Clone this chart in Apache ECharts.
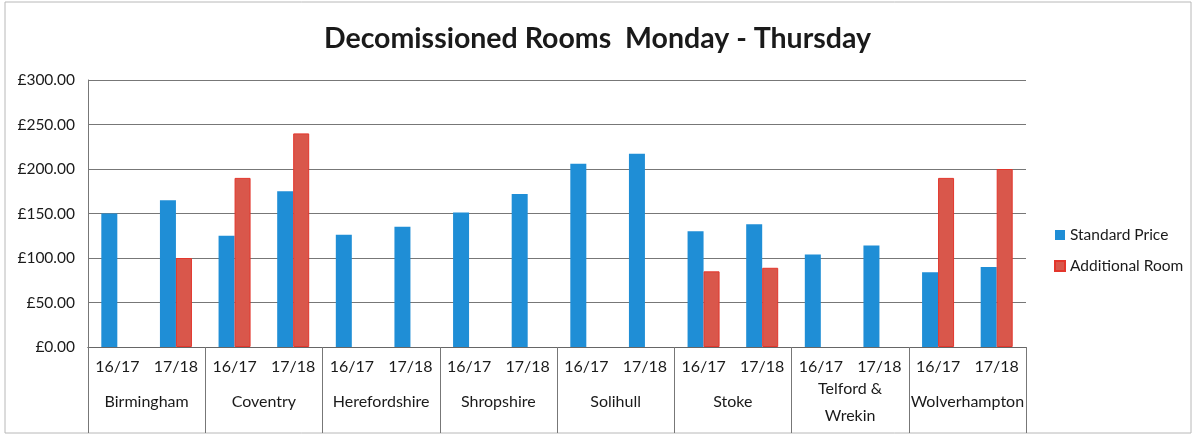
<!DOCTYPE html>
<html>
<head>
<meta charset="utf-8">
<script src="https://cdn.jsdelivr.net/npm/echarts@6/dist/echarts.min.js"></script>
<style>
  html, body { margin: 0; padding: 0; background: #fff; }
  #chart { width: 1195px; height: 437px; }
</style>
</head>
<body>
<div id="chart"></div>
<script>
var regions   = ['Birmingham', 'Coventry', 'Herefordshire', 'Shropshire', 'Solihull', 'Stoke', 'Telford &\nWrekin', 'Wolverhampton']
var years     = ['16/17', '17/18']
var standard  = [150, 165, 125, 175, 126, 135, 151, 172, 206, 217, 130, 138, 104, 114, 84, 90]
var additional = [null, 100, 190, 240, null, null, null, null, null, null, 85, 89, null, null, 190, 200]

// one category per region/year pair
var yearCats = []
regions.forEach(function() { years.forEach(function(y) { yearCats.push(y) }) })

var FONT = 'Lato, "Open Sans", sans-serif'
var chart = echarts.init(document.getElementById('chart'), null, { renderer: 'canvas' })

chart.setOption({
  backgroundColor: '#fff',
  animation: false,
  title: {
    text: 'Decomissioned Rooms  Monday - Thursday',
    left: 'center',
    top: 19,
    textStyle: { fontFamily: FONT, fontSize: 28.5, fontWeight: 'bold', color: '#1a1a1a' }
  },
  legend: {
    orient: 'vertical',
    left: 1049,
    top: 222,
    itemWidth: 10,
    itemHeight: 10,
    itemGap: 15,
    icon: 'rect',
    textStyle: { fontFamily: FONT, fontSize: 15.5, color: '#1a1a1a' },
    data: ['Standard Price', 'Additional Room']
  },
  grid: { left: 88, right: 169, top: 80, bottom: 90 },
  xAxis: [{
    type: 'category',
    data: yearCats,
    position: 'bottom',
    axisLine: { lineStyle: { color: '#666' } },
    axisTick: { show: false },
    axisLabel: { fontFamily: FONT, fontSize: 16, color: '#1a1a1a', margin: 20, verticalAlign: 'middle', interval: 0 }
  }, {
    type: 'category',
    data: regions,
    position: 'bottom',
    axisLine: { lineStyle: { color: '#666' } },
    axisTick: { show: true, length: 86, lineStyle: { color: '#777' } },
    axisLabel: { fontFamily: FONT, fontSize: 16, color: '#1a1a1a', margin: 55, verticalAlign: 'middle', lineHeight: 27, interval: 0 }
  }],
  yAxis: {
    type: 'value',
    min: 0,
    max: 300,
    interval: 50,
    axisLine: { show: true, lineStyle: { color: '#777' } },
    axisTick: { show: false },
    splitLine: { lineStyle: { color: '#777' } },
    axisLabel: {
      fontFamily: FONT, fontSize: 15.5, color: '#1a1a1a', margin: 13,
      formatter: function(v) { return '£' + v.toFixed(2) }
    }
  },
  series: [{
    name: 'Standard Price',
    type: 'bar',
    xAxisIndex: 0,
    data: standard,
    barWidth: 16,
    barGap: '0%',
    itemStyle: { color: '#1f8ed6' }
  }, {
    name: 'Additional Room',
    type: 'bar',
    xAxisIndex: 0,
    data: additional,
    barWidth: 16,
    barGap: '0%',
    itemStyle: { color: '#d9574b', borderColor: '#e3362c', borderWidth: 1 }
  }],
  graphic: [{
    type: 'rect',
    shape: { x: 5, y: 2, width: 1186, height: 431 },
    style: { fill: 'none', stroke: '#b8b8b8', lineWidth: 1 },
    silent: true
  }]
})

window.addEventListener('resize', function() { chart.resize() })
</script>
</body>
</html>
